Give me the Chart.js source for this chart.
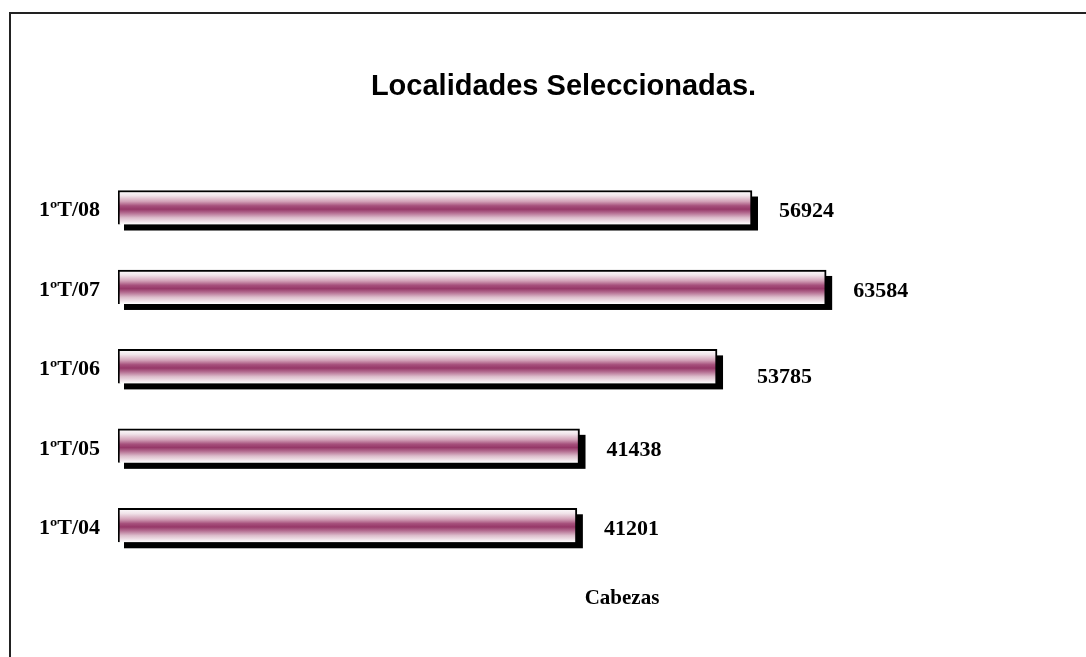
<!DOCTYPE html>
<html>
<head>
<meta charset="utf-8">
<script src="https://cdn.jsdelivr.net/npm/chart.js@4"></script>
<style>
  body { margin: 0; background: #fff; }
  #wrap { position: relative; width: 1086px; height: 657px; }
  #frame { position: absolute; left: 9px; top: 12px; right: 0; bottom: 0;
           border-top: 2px solid #222; border-left: 2px solid #222; pointer-events: none; }
</style>
</head>
<body>
<div id="wrap">
  <canvas id="chart" width="1086" height="657"></canvas>
  <div id="frame"></div>
</div>
<script>
// Data
const categories = ['1ºT/08', '1ºT/07', '1ºT/06', '1ºT/05', '1ºT/04'];
const values = [56924, 63584, 53785, 41438, 41201];
const chartTitle = 'Localidades Seleccionadas.';
const unitLabel = 'Cabezas';

const serif = '"Liberation Serif", "Times New Roman", serif';

// Vertical gradient across each bar (white - magenta - white)
function barGradient(context) {
    const chart = context.chart;
    const yScale = chart.scales.y;
    if (!yScale || context.dataIndex === undefined) return '#9b3d6b';
    const yc = yScale.getPixelForValue(context.dataIndex);
    if (!isFinite(yc)) return '#9b3d6b';
    const h = 34;
    const g = chart.ctx.createLinearGradient(0, yc - h / 2, 0, yc + h / 2);
    g.addColorStop(0.0, '#ffffff');
    g.addColorStop(0.15, '#f1e4ea');
    g.addColorStop(0.32, '#d3a2b8');
    g.addColorStop(0.45, '#a6507c');
    g.addColorStop(0.55, '#963868');
    g.addColorStop(0.66, '#b46d91');
    g.addColorStop(0.8, '#dcbccb');
    g.addColorStop(1.0, '#ffffff');
    return g;
}

// Black drop shadow behind bars
const shadowPlugin = {
    id: 'shadow',
    beforeDatasetsDraw(chart) {
        const ctx = chart.ctx;
        const meta = chart.getDatasetMeta(0);
        ctx.save();
        ctx.fillStyle = '#000';
        meta.data.forEach(bar => {
            const p = bar.getProps(['x', 'y', 'base', 'height'], true);
            ctx.fillRect(p.base + 6, p.y - p.height / 2 + 6, p.x - p.base, p.height);
        });
        ctx.restore();
    }
};

// Value labels and axis unit text
const labelsPlugin = {
    id: 'valueLabels',
    afterDatasetsDraw(chart) {
        const ctx = chart.ctx;
        const meta = chart.getDatasetMeta(0);
        ctx.save();
        ctx.fillStyle = '#000';
        ctx.font = 'bold 22px ' + serif;
        ctx.textBaseline = 'middle';
        ctx.textAlign = 'left';
        meta.data.forEach((bar, i) => {
            const p = bar.getProps(['x', 'y'], true);
            const dx = i === 2 ? 40 : 27;
            const dy = i === 2 ? 11 : 4;
            ctx.fillText(String(values[i]), p.x + dx, p.y + dy);
        });
        ctx.font = 'bold 21px ' + serif;
        ctx.textAlign = 'center';
        ctx.fillText(unitLabel, 622, 599);
        ctx.restore();
    }
};

new Chart(document.getElementById('chart'), {
    type: 'bar',
    data: {
        labels: categories,
        datasets: [{
            data: values,
            backgroundColor: barGradient,
            borderColor: '#000',
            borderWidth: { top: 2, left: 2, right: 2, bottom: 0 },
            borderSkipped: false,
            barThickness: 34
        }]
    },
    options: {
        indexAxis: 'y',
        responsive: false,
        animation: false,
        layout: { padding: { left: 0, right: 77, top: 0, bottom: 92 } },
        plugins: {
            legend: { display: false },
            tooltip: { enabled: false },
            title: {
                display: true,
                text: chartTitle,
                fullSize: false,
                color: '#000',
                font: { family: '"Liberation Sans", Arial, sans-serif', size: 29, weight: 'bold' },
                padding: { top: 70, bottom: 63 }
            }
        },
        scales: {
            x: {
                display: false,
                min: 0,
                max: 80000
            },
            y: {
                afterFit(scale) { scale.width = 118; },
                grid: { display: false, drawTicks: false },
                border: { display: false },
                ticks: {
                    color: '#000',
                    padding: 18,
                    labelOffset: 3,
                    font: { family: serif, size: 22, weight: 'bold' }
                }
            }
        }
    },
    plugins: [shadowPlugin, labelsPlugin]
});
</script>
</body>
</html>
